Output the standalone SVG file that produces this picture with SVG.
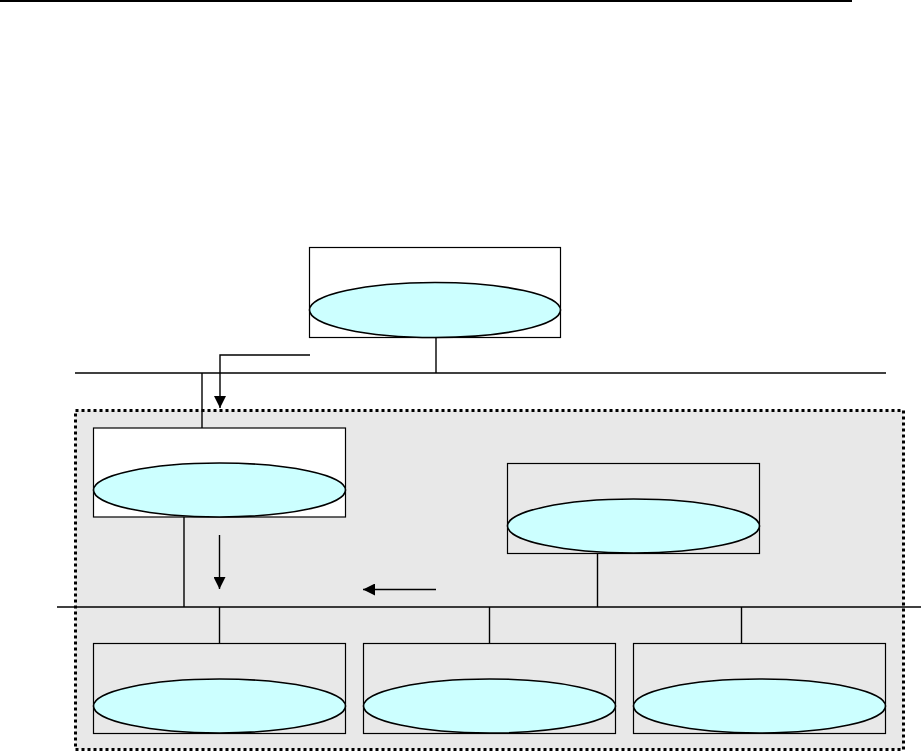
<svg xmlns="http://www.w3.org/2000/svg" width="923" height="753" viewBox="0 0 923 753">
<style>
.ln{stroke:#000;stroke-width:1.4;fill:none}
.box{stroke:#000;stroke-width:1.2}
.ell{fill:#ccffff;stroke:#000;stroke-width:1.6}
</style>
<defs>
<marker id="ah" viewBox="0 0 12 12" refX="12" refY="6" markerWidth="12" markerHeight="12" markerUnits="userSpaceOnUse" orient="auto">
<path d="M0,0 L12,6 L0,12 Z" fill="#000"/>
</marker>
</defs>
<rect width="923" height="753" fill="#fff"/>
<line x1="0" y1="1" x2="852" y2="1" stroke="#000" stroke-width="2.2"/>
<g id="zone">
<rect x="75.5" y="410.5" width="828" height="339" fill="#e8e8e8" stroke="#000" stroke-width="3" stroke-dasharray="3 3"/>
</g>
<g id="connectors">
<line class="ln" x1="75" y1="373" x2="886" y2="373"/>
<line class="ln" x1="57" y1="607" x2="921" y2="607"/>
<line class="ln" x1="436" y1="337" x2="436" y2="373"/>
<line class="ln" x1="202" y1="373" x2="202" y2="428"/>
<line class="ln" x1="184" y1="517" x2="184" y2="607"/>
<line class="ln" x1="597.5" y1="553" x2="597.5" y2="607"/>
<line class="ln" x1="219.5" y1="607" x2="219.5" y2="643"/>
<line class="ln" x1="489.5" y1="607" x2="489.5" y2="643"/>
<line class="ln" x1="741.5" y1="607" x2="741.5" y2="643"/>
<polyline class="ln" points="310,355 220,355 220,408" marker-end="url(#ah)"/>
<line class="ln" x1="219.5" y1="535" x2="219.5" y2="589" marker-end="url(#ah)"/>
<line class="ln" x1="436" y1="589.5" x2="363" y2="589.5" marker-end="url(#ah)"/>
</g>
<g id="node-top">
<rect class="box" x="309.5" y="247.5" width="251" height="90" fill="#fff"/>
<ellipse class="ell" cx="435" cy="310" rx="125.5" ry="27.5"/>
</g>
<g id="node-left">
<rect class="box" x="93.5" y="428" width="252" height="89" fill="#fff"/>
<ellipse class="ell" cx="219.5" cy="490" rx="126" ry="27"/>
</g>
<g id="node-right">
<rect class="box" x="507.5" y="463.5" width="252" height="90" fill="none"/>
<ellipse class="ell" cx="633.5" cy="526" rx="126" ry="27"/>
</g>
<g id="node-b1">
<rect class="box" x="93.5" y="643.5" width="252" height="90" fill="none"/>
<ellipse class="ell" cx="219.5" cy="706" rx="126" ry="27"/>
</g>
<g id="node-b2">
<rect class="box" x="363.5" y="643.5" width="252" height="90" fill="none"/>
<ellipse class="ell" cx="489.5" cy="706" rx="126" ry="27"/>
</g>
<g id="node-b3">
<rect class="box" x="633.5" y="643.5" width="252" height="90" fill="none"/>
<ellipse class="ell" cx="759.5" cy="706" rx="126" ry="27"/>
</g>
</svg>
